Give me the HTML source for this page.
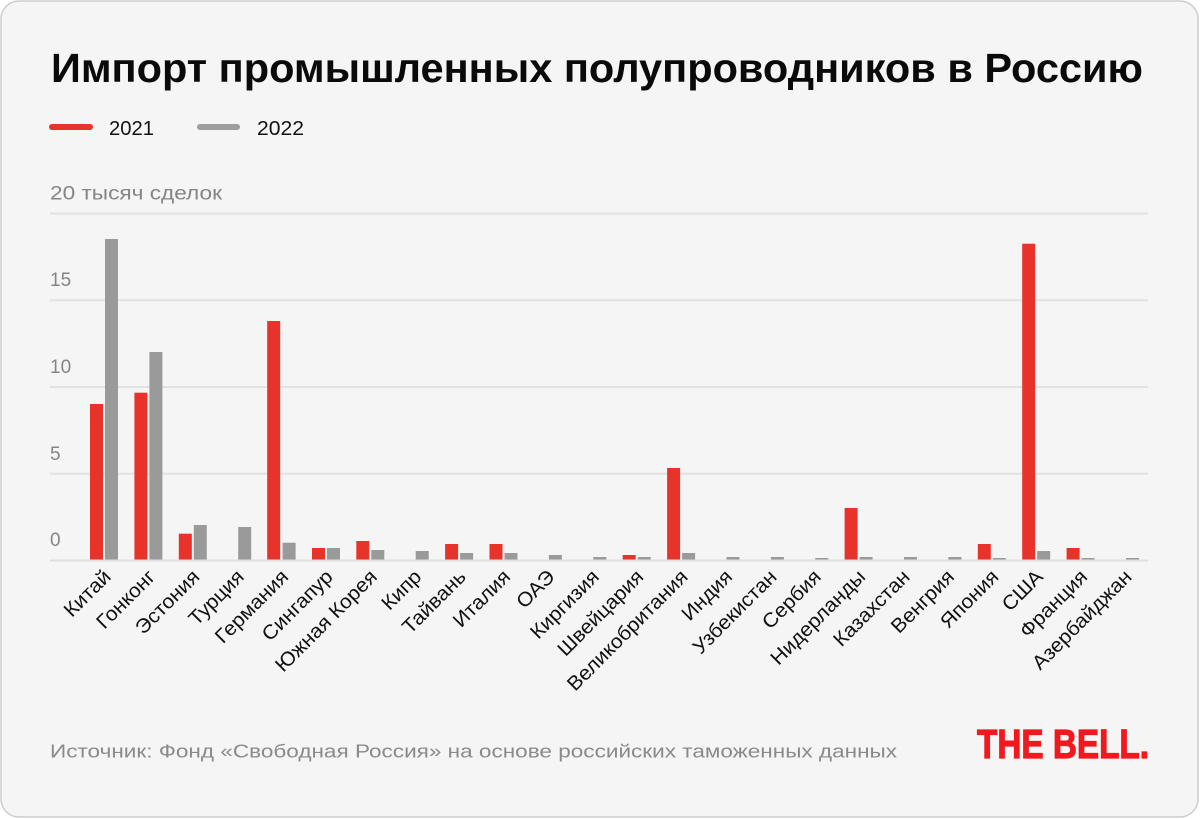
<!DOCTYPE html>
<html>
<head>
<meta charset="utf-8">
<style>
html,body{margin:0;padding:0;background:#ffffff;}
svg{display:block;}
text{font-family:"Liberation Sans","DejaVu Sans",sans-serif;}
</style>
</head>
<body>
<svg width="1200" height="819" viewBox="0 0 1200 819" xmlns="http://www.w3.org/2000/svg">
  <rect x="1" y="1" width="1197" height="816" rx="18" ry="18" fill="#f5f5f5" stroke="#cdcdcd" stroke-width="1.5"/>

  <!-- Title -->
  <text x="51" y="82" font-size="41" font-weight="bold" fill="#0a0a0a" textLength="1092" lengthAdjust="spacingAndGlyphs">Импорт промышленных полупроводников в Россию</text>

  <!-- Legend -->
  <line x1="52" y1="127" x2="90" y2="127" stroke="#e8332a" stroke-width="6" stroke-linecap="round"/>
  <text x="109" y="135" font-size="20" fill="#111" textLength="45" lengthAdjust="spacingAndGlyphs">2021</text>
  <line x1="200" y1="127" x2="237" y2="127" stroke="#9e9e9e" stroke-width="6" stroke-linecap="round"/>
  <text x="257" y="135" font-size="20" fill="#111" textLength="47" lengthAdjust="spacingAndGlyphs">2022</text>

  <!-- Gridlines -->
  <g stroke="#e2e2e2" stroke-width="2">
    <line x1="50" y1="213.5" x2="1148" y2="213.5"/>
    <line x1="50" y1="300.25" x2="1148" y2="300.25"/>
    <line x1="50" y1="387" x2="1148" y2="387"/>
    <line x1="50" y1="473.75" x2="1148" y2="473.75"/>
  </g>

  <!-- Y labels -->
  <g font-size="19" fill="#858585">
    <text x="50" y="199.5" textLength="172" lengthAdjust="spacingAndGlyphs">20 тысяч сделок</text>
    <text x="50" y="286">15</text>
    <text x="50" y="373">10</text>
    <text x="50" y="460">5</text>
    <text x="50" y="546">0</text>
  </g>

  <!-- Bars -->
  <g fill="#e8332a">
    <rect x="90" y="404" width="13" height="155.5"/>
    <rect x="134.4" y="392.7" width="13" height="166.8"/>
    <rect x="178.8" y="533.7" width="13" height="25.8"/>
    <rect x="267.2" y="321" width="13" height="238.5"/>
    <rect x="312" y="548" width="13" height="11.5"/>
    <rect x="356.3" y="541" width="13" height="18.5"/>
    <rect x="445.1" y="544" width="13" height="15.5"/>
    <rect x="489.5" y="544" width="13" height="15.5"/>
    <rect x="622.7" y="555" width="13" height="4.5"/>
    <rect x="667.1" y="468" width="13" height="91.5"/>
    <rect x="844.6" y="508" width="13" height="51.5"/>
    <rect x="977.8" y="544" width="13" height="15.5"/>
    <rect x="1022.2" y="243.7" width="13" height="315.8"/>
    <rect x="1066.6" y="548" width="13" height="11.5"/>
  </g>
  <g fill="#9a9a9a">
    <rect x="105" y="239" width="13" height="320.5"/>
    <rect x="149.4" y="352" width="13" height="207.5"/>
    <rect x="193.8" y="525" width="13" height="34.5"/>
    <rect x="238.2" y="527" width="13" height="32.5"/>
    <rect x="282.6" y="542.7" width="13" height="16.8"/>
    <rect x="327" y="548" width="13" height="11.5"/>
    <rect x="371.3" y="550" width="13" height="9.5"/>
    <rect x="415.7" y="551" width="13" height="8.5"/>
    <rect x="460.1" y="553" width="13" height="6.5"/>
    <rect x="504.5" y="553" width="13" height="6.5"/>
    <rect x="548.9" y="555" width="13" height="4.5"/>
    <rect x="593.3" y="557" width="13" height="2.5"/>
    <rect x="637.7" y="557" width="13" height="2.5"/>
    <rect x="682.1" y="553" width="13" height="6.5"/>
    <rect x="726.5" y="557" width="13" height="2.5"/>
    <rect x="770.9" y="557" width="13" height="2.5"/>
    <rect x="815.2" y="558" width="13" height="1.5"/>
    <rect x="859.6" y="557" width="13" height="2.5"/>
    <rect x="904" y="557" width="13" height="2.5"/>
    <rect x="948.4" y="557" width="13" height="2.5"/>
    <rect x="992.8" y="558" width="13" height="1.5"/>
    <rect x="1037.2" y="551" width="13" height="8.5"/>
    <rect x="1081.6" y="558" width="13" height="1.5"/>
    <rect x="1126" y="558" width="13" height="1.5"/>
  </g>

  <!-- Zero line -->
  <line x1="50" y1="560.5" x2="1148" y2="560.5" stroke="#dedede" stroke-width="2"/>

  <!-- X labels -->
  <g font-size="20" fill="#111" text-anchor="end">
    <text transform="translate(112,578) rotate(-45) scale(1.05,1)">Китай</text>
    <text transform="translate(156.4,578) rotate(-45) scale(1.05,1)">Гонконг</text>
    <text transform="translate(200.8,578) rotate(-45) scale(1.05,1)">Эстония</text>
    <text transform="translate(245.2,578) rotate(-45) scale(1.05,1)">Турция</text>
    <text transform="translate(289.6,578) rotate(-45) scale(1.05,1)">Германия</text>
    <text transform="translate(334,578) rotate(-45) scale(1.05,1)">Сингапур</text>
    <text transform="translate(378.3,578) rotate(-45) scale(1.05,1)">Южная Корея</text>
    <text transform="translate(422.7,578) rotate(-45) scale(1.05,1)">Кипр</text>
    <text transform="translate(467.1,578) rotate(-45) scale(1.05,1)">Тайвань</text>
    <text transform="translate(511.5,578) rotate(-45) scale(1.05,1)">Италия</text>
    <text transform="translate(555.9,578) rotate(-45) scale(1.05,1)">ОАЭ</text>
    <text transform="translate(600.3,578) rotate(-45) scale(1.05,1)">Киргизия</text>
    <text transform="translate(644.7,578) rotate(-45) scale(1.05,1)">Швейцария</text>
    <text transform="translate(689.1,578) rotate(-45) scale(1.05,1)">Великобритания</text>
    <text transform="translate(733.5,578) rotate(-45) scale(1.05,1)">Индия</text>
    <text transform="translate(777.9,578) rotate(-45) scale(1.05,1)">Узбекистан</text>
    <text transform="translate(822.2,578) rotate(-45) scale(1.05,1)">Сербия</text>
    <text transform="translate(866.6,578) rotate(-45) scale(1.05,1)">Нидерланды</text>
    <text transform="translate(911,578) rotate(-45) scale(1.05,1)">Казахстан</text>
    <text transform="translate(955.4,578) rotate(-45) scale(1.05,1)">Венгрия</text>
    <text transform="translate(999.8,578) rotate(-45) scale(1.05,1)">Япония</text>
    <text transform="translate(1044.2,578) rotate(-45) scale(1.05,1)">США</text>
    <text transform="translate(1088.6,578) rotate(-45) scale(1.05,1)">Франция</text>
    <text transform="translate(1133,578) rotate(-45) scale(1.05,1)">Азербайджан</text>
  </g>

  <!-- Source -->
  <text x="50" y="757.5" font-size="18.5" fill="#8a8a8a" textLength="847" lengthAdjust="spacingAndGlyphs">Источник: Фонд «Свободная Россия» на основе российских таможенных данных</text>

  <!-- Logo -->
  <text x="977" y="758" font-size="41" font-weight="bold" fill="#f2191e" stroke="#f2191e" stroke-width="1.2" textLength="172" lengthAdjust="spacingAndGlyphs">THE BELL.</text>
</svg>
</body>
</html>
